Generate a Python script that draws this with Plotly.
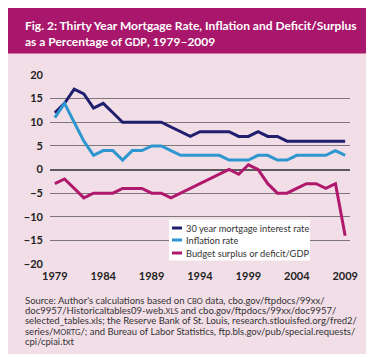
import plotly.graph_objects as go

years = list(range(1979, 2010))
mortgage = [12, 14, 17, 16, 13, 14, 12, 10, 10, 10, 10, 10, 9, 8, 7, 8, 8, 8, 8, 7, 7, 8, 7, 7, 6, 6, 6, 6, 6, 6, 6]
inflation = [11, 14, 10, 6, 3, 4, 4, 2, 4, 4, 5, 5, 4, 3, 3, 3, 3, 3, 2, 2, 2, 3, 3, 2, 2, 3, 3, 3, 3, 4, 3]
deficit = [-3, -2, -4, -6, -5, -5, -5, -4, -4, -4, -5, -5, -6, -5, -4, -3, -2, -1, 0, -1, 1, 0, -3, -5, -5, -4, -3, -3, -4, -3, -14]
series_names = ["30 year mortgage interest rate", "Inflation rate", "Budget surplus or deficit/GDP"]
colors = ["#1f1f6e", "#2f97cf", "#b0186e"]
x_ticks = [1979, 1984, 1989, 1994, 1999, 2004, 2009]
y_ticks = [20, 15, 10, 5, 0, -5, -10, -15, -20]

W, H = 374, 357
L, R, T, B = 42, 342, 67, 256

def px(x):
    return (x - L) / (R - L)

def py(y):
    return (B - y) / (B - T)

fig = go.Figure()
for name, vals, c in zip(series_names, [mortgage, inflation, deficit], colors):
    fig.add_trace(go.Scatter(x=years, y=vals, name=name, mode="lines",
                             line=dict(color=c, width=3), showlegend=False))

shapes = []
annotations = []
# white strips at right and bottom; magenta title band
shapes.append(dict(type="rect", xref="paper", yref="paper", x0=px(370), x1=px(380), y0=py(360), y1=py(-5),
                   fillcolor="white", line=dict(width=0), layer="below"))
shapes.append(dict(type="rect", xref="paper", yref="paper", x0=px(-5), x1=px(380), y0=py(360), y1=py(346),
                   fillcolor="white", line=dict(width=0), layer="below"))
shapes.append(dict(type="rect", xref="paper", yref="paper", x0=px(-5), x1=px(370), y0=py(45.5), y1=py(-5),
                   fillcolor="#a8176b", line=dict(width=0), layer="below"))
annotations.append(dict(xref="paper", yref="paper", x=px(15), y=py(25.5), xanchor="left", yanchor="middle",
                        align="left", showarrow=False,
                        text="Fig. 2: Thirty Year Mortgage Rate, Inflation and Deficit/Surplus<br>as a Percentage of <span style='font-size:10.5px'>GDP</span>, 1979–2009",
                        font=dict(family="Lato", size=12, color="white", weight="bold")))
# legend box
shapes.append(dict(type="rect", xref="paper", yref="paper", x0=px(161), x1=px(302), y0=py(252.5), y1=py(211.5),
                   fillcolor="white", line=dict(width=0)))
leg_y = [220, 232, 245]
for name, c, yy in zip(series_names, colors, leg_y):
    shapes.append(dict(type="line", xref="paper", yref="paper", x0=px(164), x1=px(174), y0=py(yy), y1=py(yy),
                       line=dict(color=c, width=3)))
    annotations.append(dict(xref="paper", yref="paper", x=px(175.5), y=py(yy), xanchor="left", yanchor="middle",
                            showarrow=False, text=name,
                            font=dict(family="Lato", size=9.3, color="#333333")))
source_lines = [
    "Source: Author's calculations based on <span style='font-size:7.5px'>CBO</span> data, cbo.gov/ftpdocs/99xx/",
    "doc9957/Historicaltables09-web.<span style='font-size:7.5px'>XLS</span> and cbo.gov/ftpdocs/99xx/doc9957/",
    "selected_tables.xls; the Reserve Bank of St. Louis, research.stlouisfed.org/fred2/",
    "series/<span style='font-size:7.5px'>MORTG</span>/; and Bureau of Labor Statistics, ftp.bls.gov/pub/special.requests/",
    "cpi/cpiai.txt",
]
for i, s in enumerate(source_lines):
    annotations.append(dict(xref="paper", yref="paper", x=px(15), y=py(292 + i * 10.4), xanchor="left",
                            yanchor="middle", showarrow=False, text=s,
                            font=dict(family="Lato", size=9.5, color="#333333")))

fig.update_layout(
    width=W, height=H,
    margin=dict(l=L, r=W - R, t=T, b=H - B, autoexpand=False),
    paper_bgcolor="#f2dee7", plot_bgcolor="#f2dee7",
    shapes=shapes, annotations=annotations,
    showlegend=False,
    xaxis=dict(range=[1978.5, 2009.5], tickvals=x_ticks, ticktext=[str(v) for v in x_ticks],
               showgrid=False, zeroline=False, showline=False, ticks="",
               ticklabelstandoff=4,
               tickfont=dict(family="Lato", size=11, color="#222222", weight="bold")),
    yaxis=dict(range=[-20, 20], tickvals=y_ticks, showgrid=True, gridcolor="#7d767a", gridwidth=1.4,
               zeroline=True, zerolinecolor="#5f5a5d", zerolinewidth=1.8, showline=False, ticks="",
               ticklabelstandoff=6,
               tickfont=dict(family="Lato", size=11, color="#222222", weight="bold")),
)
fig.write_html("out.html")
